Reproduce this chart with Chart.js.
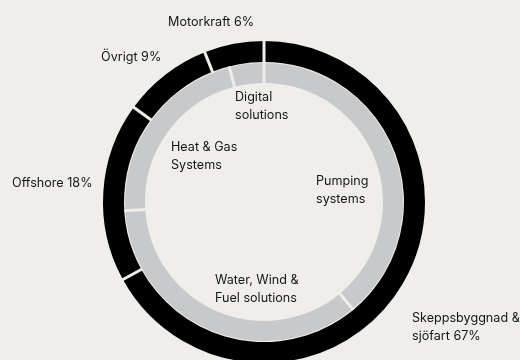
<!DOCTYPE html>
<html>
<head>
<meta charset="utf-8">
<script src="https://cdn.jsdelivr.net/npm/chart.js@4/dist/chart.umd.min.js"></script>
<style>
  html, body { margin: 0; padding: 0; background: #EFEEEA; overflow: hidden; }
  #wrap { position: relative; width: 520px; height: 366px; }
</style>
</head>
<body>
<div id="wrap"><canvas id="c"></canvas></div>
<script>
// Outer ring: markets (clockwise from 12 o'clock)
const marketLabels = ['Skeppsbyggnad & sjöfart 67%', 'Offshore 18%', 'Övrigt 9%', 'Motorkraft 6%'];
const marketValues = [67, 18, 9, 6];
// Inner ring: business areas (clockwise from 12 o'clock)
const areaLabels = ['Pumping systems', 'Water, Wind & Fuel solutions', 'Heat & Gas Systems', 'Digital solutions'];
const areaValues = [39, 35, 22, 4];

const BG = '#EFEEEA';
const TEXT = '#161616';
const FONT = '12.6px Inter, "Noto Sans", sans-serif';

// Label text lines and their placement (offset from doughnut centre, left-aligned, middle baseline)
const labelSpecs = [
  { lines: ['Motorkraft 6%'], dx: -96, dy: -180 },
  { lines: ['Övrigt 9%'], dx: -163, dy: -145 },
  { lines: ['Offshore 18%'], dx: -252, dy: -19 },
  { lines: ['Skeppsbyggnad &', 'sjöfart 67%'], dx: 148, dy: 116 },
  { lines: ['Digital', 'solutions'], dx: -29, dy: -105 },
  { lines: ['Heat & Gas', 'Systems'], dx: -93, dy: -55 },
  { lines: ['Pumping', 'systems'], dx: 52, dy: -21 },
  { lines: ['Water, Wind &', 'Fuel solutions'], dx: -49, dy: 78 }
];

const gapPlugin = {
  id: 'gaps',
  afterDatasetsDraw(chart) {
    const ctx = chart.ctx;
    ctx.save();
    ctx.strokeStyle = BG;
    ctx.lineWidth = 3;
    ctx.lineCap = 'butt';
    chart.data.datasets.forEach((ds, i) => {
      if (ds.spacer) return;
      const meta = chart.getDatasetMeta(i);
      meta.data.forEach(arc => {
        const a = arc.startAngle;
        const r0 = arc.innerRadius - 1, r1 = arc.outerRadius + 1;
        ctx.beginPath();
        ctx.moveTo(arc.x + Math.cos(a) * r0, arc.y + Math.sin(a) * r0);
        ctx.lineTo(arc.x + Math.cos(a) * r1, arc.y + Math.sin(a) * r1);
        ctx.stroke();
      });
    });
    ctx.restore();
  }
};

const labelPlugin = {
  id: 'labels',
  afterDraw(chart) {
    const ctx = chart.ctx;
    const arc = chart.getDatasetMeta(0).data[0];
    const cx = arc.x, cy = arc.y;
    ctx.save();
    ctx.fillStyle = TEXT;
    ctx.font = FONT;
    ctx.textAlign = 'left';
    ctx.textBaseline = 'middle';
    labelSpecs.forEach(s => {
      s.lines.forEach((t, k) => {
        ctx.fillText(t, cx + s.dx, cy + s.dy + k * 18.5);
      });
    });
    ctx.restore();
  }
};

new Chart(document.getElementById('c'), {
  type: 'doughnut',
  data: {
    labels: marketLabels,
    datasets: [
      { data: marketValues, backgroundColor: '#000000', borderWidth: 0, weight: 21 },
      { data: [1], backgroundColor: 'rgba(0,0,0,0)', borderWidth: 0, weight: 1, spacer: true },
      { data: areaValues, labels: areaLabels, backgroundColor: '#C8C9CA', borderWidth: 0, weight: 20 }
    ]
  },
  options: {
    responsive: true,
    maintainAspectRatio: false,
    animation: false,
    events: [],
    cutout: '73.9%',
    layout: { padding: { left: 103, right: 95, top: 41, bottom: 3 } },
    plugins: { legend: { display: false }, tooltip: { enabled: false } }
  },
  plugins: [gapPlugin, labelPlugin]
});
</script>
</body>
</html>
